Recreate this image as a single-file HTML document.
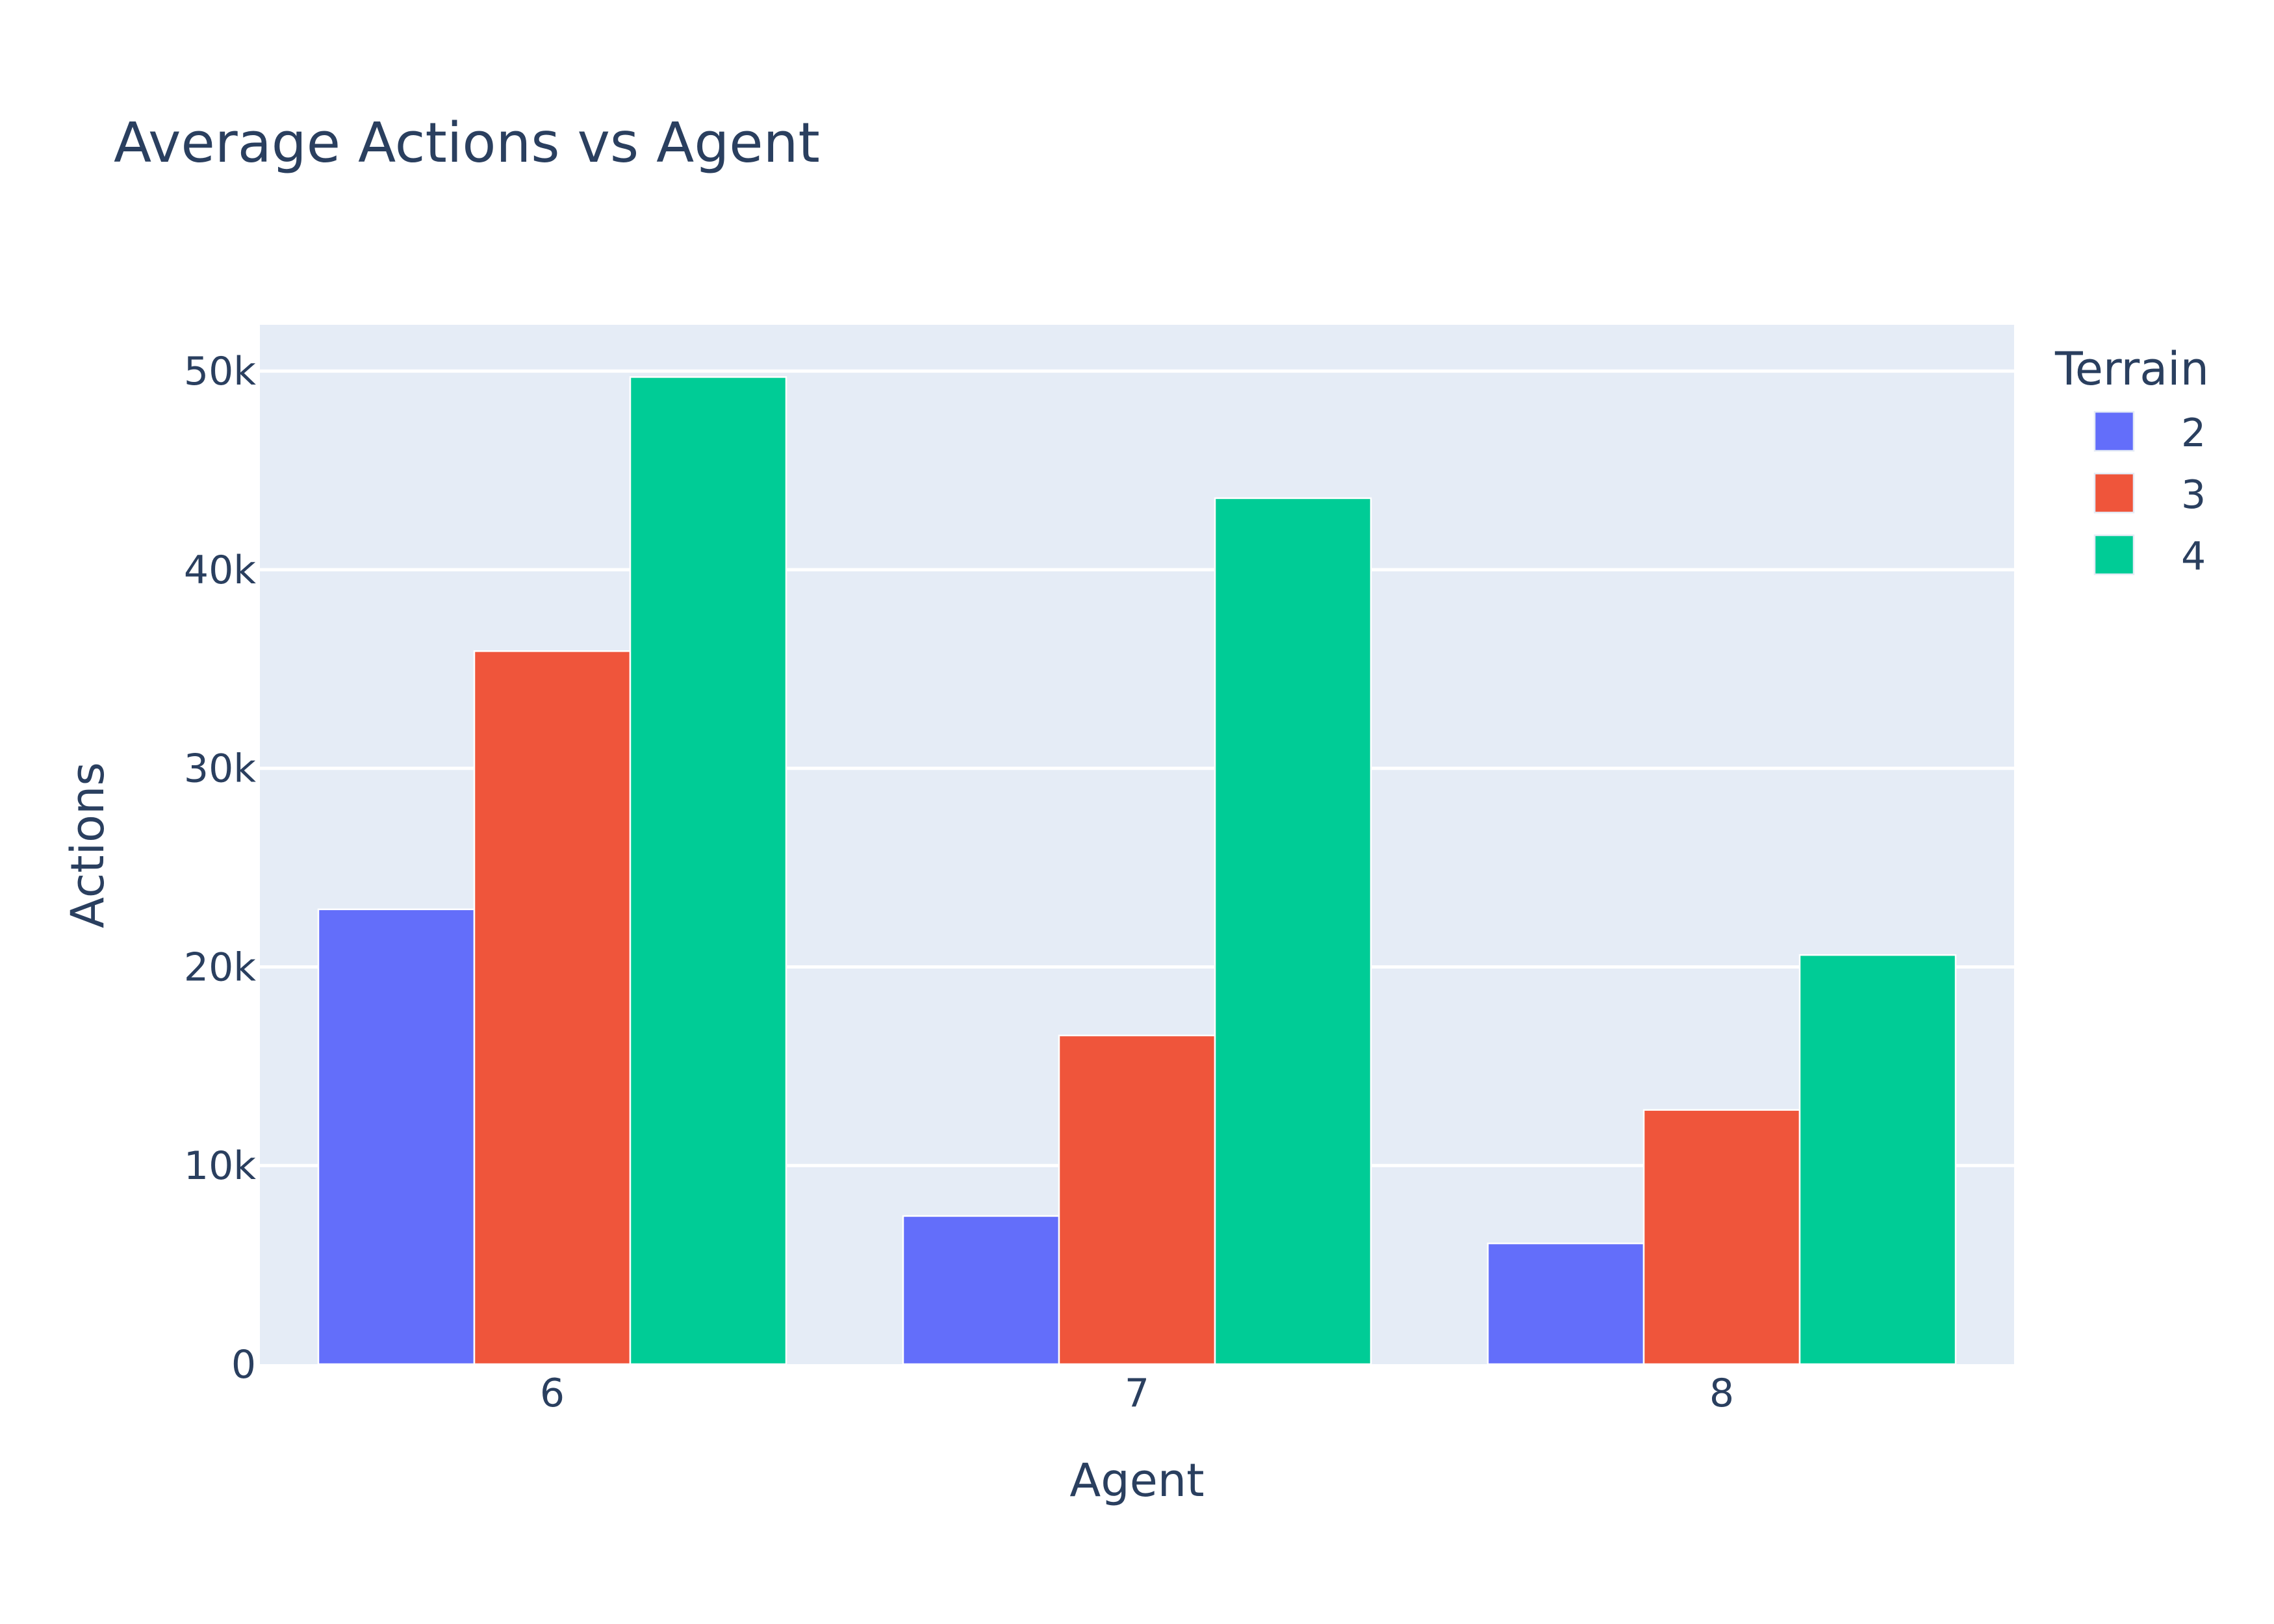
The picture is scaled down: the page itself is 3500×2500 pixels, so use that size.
<!DOCTYPE html>
<html><head><meta charset="utf-8">
<style>
html,body{margin:0;padding:0;background:#fff;}
svg{display:block;font-family:"DejaVu Sans","Liberation Sans",sans-serif;}
</style></head>
<body>
<svg id="chart" width="3500" height="2500" viewBox="0 0 3500 2500" xmlns="http://www.w3.org/2000/svg">
<rect x="0" y="0" width="3500" height="2500" fill="#fff"/>
<rect x="400" y="500" width="2700" height="1600" fill="#e5ecf6"/>
<g id="grid"></g>
<g id="bars"></g>
<g id="yticks"></g>
<g id="xticks"></g>
<text x="175" y="249" font-size="85" fill="#2a3f5f">Average Actions vs Agent</text>
<text x="159" y="1301" font-size="70" fill="#2a3f5f" text-anchor="middle" transform="rotate(-90 159 1301)">Actions</text>
<text x="1750" y="2303" font-size="70" fill="#2a3f5f" text-anchor="middle">Agent</text>
<text x="3163" y="592" font-size="70" fill="#2a3f5f">Terrain</text>
<g id="legend"></g>
</svg>
<script>
const categories = ["6", "7", "8"];
const seriesNames = ["2", "3", "4"];
const series2 = [22900, 7460, 6080];
const series3 = [35900, 16550, 12800];
const series4 = [49700, 43600, 20600];
const yTickValues = [0, 10000, 20000, 30000, 40000, 50000];
const yTickLabels = ["0", "10k", "20k", "30k", "40k", "50k"];

const allSeries = [series2, series3, series4];
const colors = ["#636efa", "#ef553b", "#00cc96"];
const NS = "http://www.w3.org/2000/svg";
const PL = 400, PR = 3100, PT = 500, PB = 2100, YMAX = 52330;
function yScale(v){ return PB - (v / YMAX) * (PB - PT); }
const band = (PR - PL) / categories.length;
function xCenter(i){ return PL + band * (i + 0.5); }
function mk(tag, attrs, parent){
  const el = document.createElementNS(NS, tag);
  for (const k in attrs) el.setAttribute(k, attrs[k]);
  parent.appendChild(el);
  return el;
}
const grid = document.getElementById('grid');
const yt = document.getElementById('yticks');
yTickValues.forEach((v, i) => {
  if (v > 0) {
    const ln = mk('line', {x1: PL, x2: PR, y1: yScale(v), y2: yScale(v), stroke: '#fff', 'stroke-width': 5}, grid);
    
    
  }
  const t = mk('text', {x: 394, y: yScale(v) + 21, 'font-size': 60, fill: '#2a3f5f', 'text-anchor': 'end'}, yt);
  t.textContent = yTickLabels[i];
  
  
});
const bars = document.getElementById('bars');
const groupW = band * 0.8, barW = groupW / allSeries.length;
allSeries.forEach((s, si) => {
  s.forEach((v, ci) => {
    const x0 = xCenter(ci) - groupW / 2 + si * barW;
    const r = mk('rect', {x: x0, y: yScale(v), width: barW, height: yScale(0) - yScale(v), fill: colors[si], stroke: '#fff', 'stroke-width': 2.5}, bars);
    
    
  });
});
const xt = document.getElementById('xticks');
categories.forEach((c, i) => {
  const t = mk('text', {x: xCenter(i), y: 2165, 'font-size': 60, fill: '#2a3f5f', 'text-anchor': 'middle'}, xt);
  t.textContent = c;
  
  
});
const lg = document.getElementById('legend');
seriesNames.forEach((n, i) => {
  const y0 = 634 + i * 95;
  const r = mk('rect', {x: 3224, y: y0, width: 60, height: 60, fill: colors[i], stroke: '#e5ecf6', 'stroke-width': 2.5}, lg);
  
  
  const t = mk('text', {x: 3357, y: y0 + 53, 'font-size': 60, fill: '#2a3f5f'}, lg);
  t.textContent = n;
  
  
});
</script>
</body></html>
